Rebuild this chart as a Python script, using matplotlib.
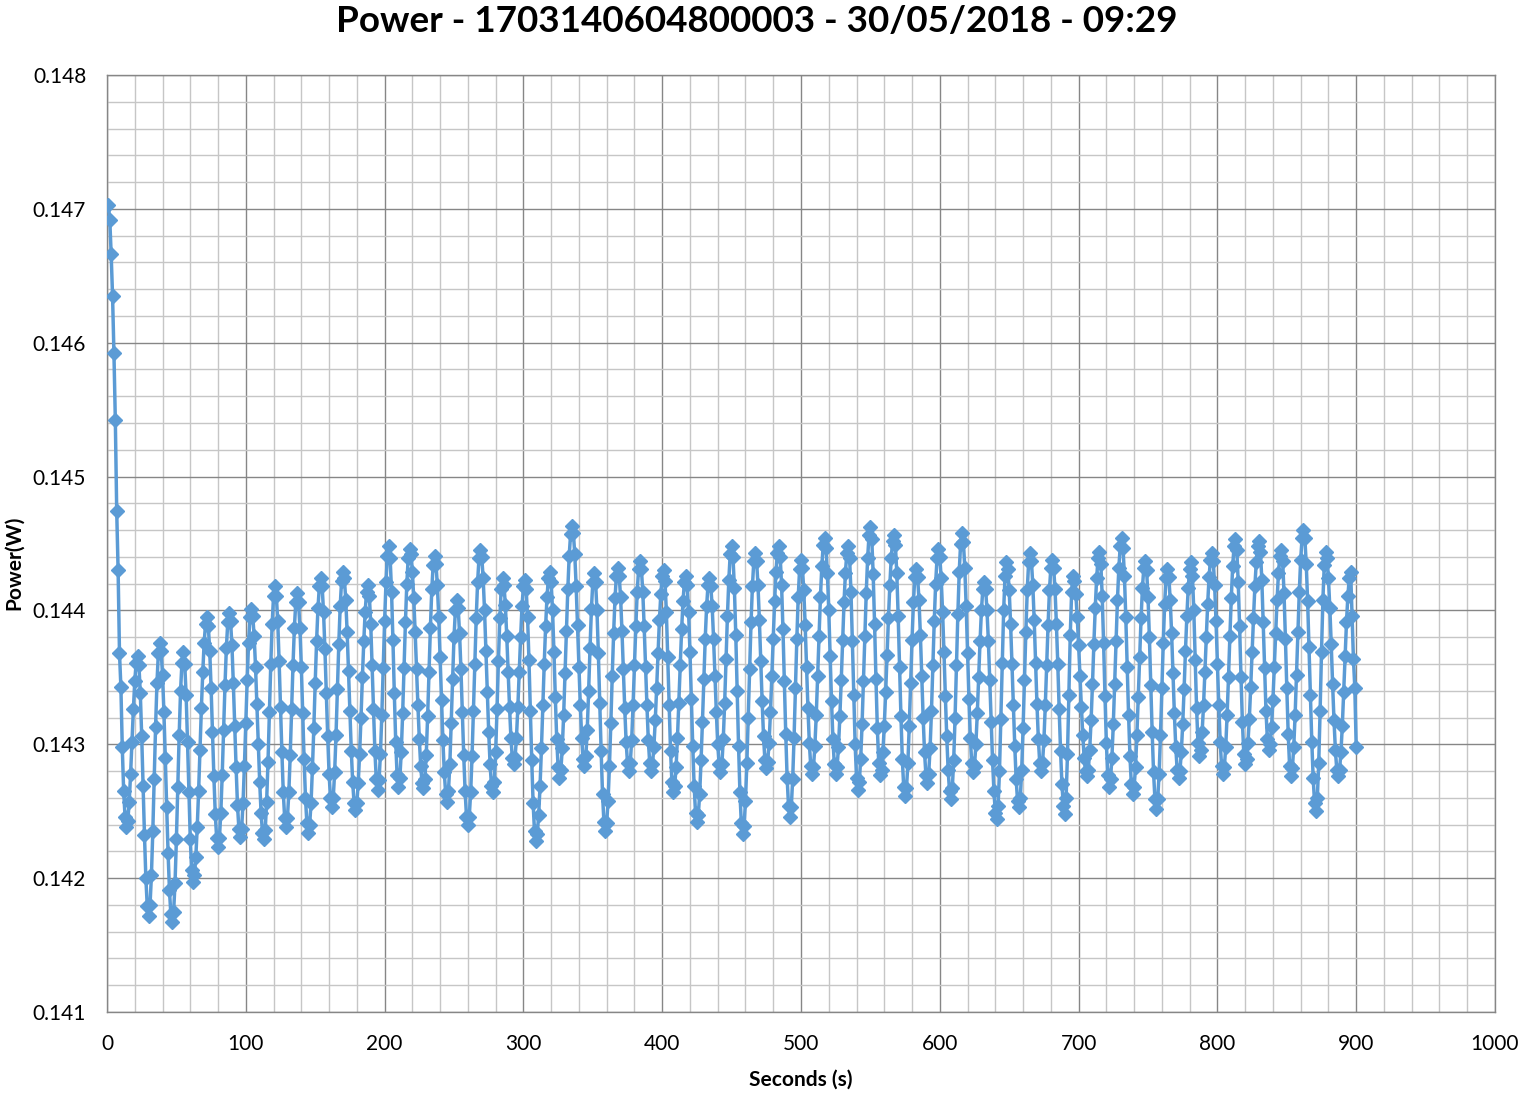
import numpy as np
import matplotlib
matplotlib.use("Agg")
import matplotlib.pyplot as plt
from matplotlib.ticker import MultipleLocator, FormatStrFormatter

# Power readings, one per second, in units of 1e-5 W (14238 -> 0.14238 W)
power_e5 = [
    14703, 14692, 14666, 14635, 14592, 14542, 14474, 14430, 14368, 14343, 14298, 14265, 14246, 14238,
    14243, 14257, 14278, 14302, 14326, 14347, 14361, 14366,
    14359, 14338, 14306, 14269, 14232, 14200, 14179, 14172,
    14180, 14202, 14235, 14274, 14313, 14346, 14368, 14376,
    14370, 14352, 14324, 14290, 14253, 14219, 14191, 14173, 14167,
    14175, 14196, 14229, 14268, 14307, 14340, 14361, 14369,
    14360, 14337, 14302, 14264, 14229, 14206, 14197,
    14202, 14216, 14238, 14265, 14296, 14327, 14354, 14376, 14390, 14395,
    14388, 14370, 14342, 14309, 14276, 14248, 14230, 14223,
    14230, 14249, 14277, 14311, 14344, 14372, 14391, 14398,
    14392, 14374, 14346, 14314, 14283, 14255, 14237, 14231,
    14237, 14256, 14284, 14316, 14348, 14376, 14395, 14401,
    14396, 14381, 14358, 14330, 14300, 14272, 14249, 14234, 14229,
    14236, 14257, 14287, 14324, 14360, 14390, 14411, 14418,
    14411, 14392, 14362, 14328, 14294, 14264, 14245, 14238,
    14245, 14264, 14292, 14326, 14359, 14387, 14406, 14413,
    14406, 14387, 14358, 14323, 14289, 14260, 14241, 14234,
    14240, 14256, 14282, 14312, 14346, 14377, 14402, 14418, 14424,
    14418, 14399, 14371, 14338, 14306, 14278, 14260, 14253,
    14260, 14279, 14307, 14341, 14375, 14403, 14422, 14429,
    14424, 14408, 14384, 14355, 14325, 14295, 14272, 14256, 14251,
    14256, 14271, 14293, 14320, 14350, 14377, 14399, 14414, 14419,
    14411, 14390, 14359, 14326, 14295, 14274, 14266,
    14273, 14293, 14322, 14357, 14392, 14421, 14441, 14448,
    14439, 14414, 14378, 14338, 14302, 14277, 14268,
    14275, 14294, 14323, 14357, 14391, 14420, 14439, 14446,
    14442, 14429, 14409, 14384, 14356, 14329, 14304, 14284, 14271, 14267,
    14274, 14292, 14321, 14354, 14387, 14416, 14434, 14441,
    14435, 14419, 14395, 14365, 14333, 14303, 14279, 14263, 14257,
    14265, 14285, 14316, 14349, 14380, 14400, 14408,
    14402, 14383, 14356, 14324, 14292, 14265, 14246, 14240,
    14246, 14264, 14291, 14325, 14360, 14394, 14421, 14439, 14445,
    14440, 14424, 14400, 14370, 14339, 14309, 14285, 14269, 14264,
    14272, 14294, 14326, 14362, 14394, 14416, 14424,
    14419, 14404, 14381, 14354, 14328, 14305, 14290, 14285,
    14290, 14305, 14328, 14354, 14380, 14403, 14418, 14423,
    14416, 14395, 14363, 14325, 14288, 14256, 14235, 14228,
    14233, 14247, 14269, 14297, 14329, 14360, 14388, 14410, 14424, 14429,
    14421, 14400, 14369, 14335, 14304, 14283, 14275,
    14281, 14297, 14322, 14353, 14385, 14416, 14441, 14457, 14463,
    14458, 14442, 14418, 14389, 14358, 14329, 14305, 14289, 14284,
    14291, 14311, 14340, 14372, 14401, 14421, 14428,
    14421, 14400, 14368, 14331, 14295, 14263, 14242, 14235,
    14241, 14258, 14284, 14316, 14351, 14383, 14409, 14426, 14432,
    14426, 14410, 14385, 14356, 14327, 14302, 14286, 14280,
    14286, 14303, 14329, 14359, 14388, 14414, 14431, 14437,
    14431, 14414, 14388, 14358, 14329, 14303, 14286, 14280,
    14285, 14298, 14318, 14342, 14368, 14393, 14412, 14426, 14430,
    14422, 14399, 14365, 14329, 14295, 14272, 14264,
    14269, 14283, 14305, 14331, 14359, 14386, 14407, 14421, 14426,
    14419, 14399, 14369, 14334, 14299, 14269, 14249, 14242,
    14247, 14263, 14288, 14317, 14349, 14379, 14403, 14419, 14424,
    14418, 14403, 14379, 14351, 14324, 14300, 14285, 14279,
    14285, 14304, 14331, 14364, 14396, 14423, 14442, 14448,
    14440, 14417, 14382, 14340, 14299, 14264, 14241, 14233,
    14239, 14258, 14286, 14320, 14356, 14391, 14418, 14437, 14443,
    14437, 14419, 14393, 14362, 14332, 14306, 14288, 14282,
    14287, 14301, 14324, 14351, 14379, 14407, 14429, 14443, 14448,
    14440, 14419, 14386, 14347, 14308, 14275, 14254, 14246,
    14253, 14274, 14305, 14342, 14379, 14410, 14431, 14438,
    14432, 14415, 14389, 14358, 14327, 14301, 14284, 14278,
    14283, 14299, 14322, 14351, 14381, 14410, 14433, 14449, 14454,
    14447, 14428, 14400, 14366, 14332, 14304, 14285, 14278,
    14283, 14298, 14321, 14348, 14378, 14406, 14428, 14443, 14448,
    14439, 14414, 14377, 14337, 14300, 14275, 14266,
    14272, 14289, 14315, 14347, 14381, 14413, 14439, 14456, 14462,
    14453, 14427, 14390, 14349, 14312, 14286, 14277,
    14281, 14294, 14314, 14339, 14367, 14394, 14419, 14439, 14452, 14456,
    14449, 14428, 14396, 14358, 14321, 14289, 14268, 14261,
    14267, 14286, 14314, 14346, 14378, 14406, 14425, 14431,
    14425, 14408, 14382, 14351, 14320, 14294, 14277, 14271,
    14278, 14297, 14325, 14359, 14392, 14420, 14439, 14446,
    14440, 14424, 14399, 14369, 14336, 14306, 14281, 14265, 14259,
    14267, 14288, 14320, 14359, 14397, 14429, 14450, 14458,
    14451, 14432, 14403, 14368, 14334, 14305, 14286, 14279,
    14284, 14300, 14323, 14350, 14377, 14400, 14416, 14421,
    14416, 14400, 14377, 14348, 14317, 14288, 14265, 14249, 14244,
    14254, 14280, 14319, 14361, 14400, 14426, 14436,
    14431, 14415, 14390, 14360, 14329, 14299, 14274, 14258, 14253,
    14260, 14281, 14312, 14348, 14384, 14415, 14436, 14443,
    14437, 14419, 14393, 14361, 14330, 14304, 14286, 14280,
    14286, 14303, 14329, 14359, 14389, 14415, 14432, 14438,
    14432, 14416, 14390, 14360, 14326, 14295, 14270, 14254, 14248,
    14260, 14293, 14337, 14382, 14414, 14426,
    14422, 14412, 14395, 14374, 14351, 14328, 14307, 14290, 14280, 14276,
    14281, 14296, 14318, 14345, 14375, 14402, 14424, 14439, 14444,
    14435, 14411, 14376, 14336, 14301, 14277, 14268,
    14274, 14290, 14315, 14345, 14377, 14408, 14432, 14448, 14454,
    14447, 14426, 14395, 14358, 14322, 14291, 14270, 14263,
    14268, 14283, 14307, 14335, 14365, 14394, 14417, 14432, 14437,
    14430, 14410, 14380, 14344, 14309, 14279, 14259, 14252,
    14259, 14278, 14307, 14342, 14376, 14405, 14424, 14431,
    14425, 14408, 14383, 14353, 14323, 14298, 14281, 14275,
    14280, 14294, 14315, 14341, 14370, 14396, 14417, 14431, 14436,
    14426, 14400, 14363, 14327, 14301, 14291,
    14296, 14309, 14329, 14354, 14380, 14405, 14425, 14438, 14443,
    14437, 14419, 14392, 14360, 14329, 14302, 14284, 14278,
    14283, 14298, 14322, 14350, 14381, 14409, 14433, 14448, 14453,
    14445, 14421, 14388, 14350, 14317, 14293, 14285,
    14289, 14301, 14319, 14343, 14369, 14394, 14418, 14436, 14448, 14452,
    14444, 14423, 14391, 14357, 14325, 14304, 14296,
    14300, 14313, 14333, 14358, 14383, 14408, 14428, 14441, 14445,
    14437, 14413, 14379, 14342, 14308, 14284, 14276,
    14282, 14298, 14322, 14352, 14384, 14414, 14438, 14454, 14460,
    14454, 14435, 14407, 14373, 14337, 14302, 14275, 14256, 14250,
    14260, 14286, 14325, 14369, 14408, 14434, 14444,
    14439, 14424, 14402, 14375, 14345, 14318, 14296, 14281, 14276,
    14281, 14294, 14314, 14339, 14366, 14391, 14411, 14424, 14429,
    14396, 14364, 14342, 14298,
]

power = np.array(power_e5) / 1e5
seconds = np.arange(1, len(power) + 1)

title = "Power - 1703140604800003 - 30/05/2018 - 09:29"
x_label = "Seconds (s)"
y_label = "Power(W)"

plt.rcParams['font.family'] = ['Lato', 'DejaVu Sans']

fig = plt.figure(figsize=(15.23, 10.95), dpi=100)
ax = fig.add_axes([107/1523, 1 - 1012/1095, (1495-107)/1523, (1012-75)/1095])

ax.plot(seconds, power, color='#5B9BD5', lw=2.5, marker='D', markersize=7.5,
        markeredgecolor='#5B9BD5', markerfacecolor='#5B9BD5', zorder=3)

ax.set_xlim(0, 1000)
ax.set_ylim(0.141, 0.148)
ax.xaxis.set_major_locator(MultipleLocator(100))
ax.xaxis.set_minor_locator(MultipleLocator(20))
ax.yaxis.set_major_locator(MultipleLocator(0.001))
ax.yaxis.set_minor_locator(MultipleLocator(0.0002))
ax.yaxis.set_major_formatter(FormatStrFormatter('%.3f'))

ax.grid(which='major', color='#868686', lw=1.0, zorder=1)
ax.grid(which='minor', color='#c6c6c6', lw=1.0, zorder=0)
ax.set_axisbelow(True)
for s in ax.spines.values():
    s.set_color('#868686')
    s.set_linewidth(1.0)

ax.tick_params(which='both', length=0)
ax.tick_params(axis='x', labelsize=15, pad=16)
ax.tick_params(axis='y', labelsize=15, pad=15)

ax.set_xlabel(x_label, fontsize=15, fontweight='bold', labelpad=11)
fig.text(14/1523, 1 - 563/1095, y_label, rotation=90, ha='center', va='center',
         fontsize=15, fontweight='bold')
fig.text(757/1523, 1 - 22/1095, title, ha='center', va='center', fontsize=26.5, fontweight='bold')

fig.savefig('out.png', dpi=100)
